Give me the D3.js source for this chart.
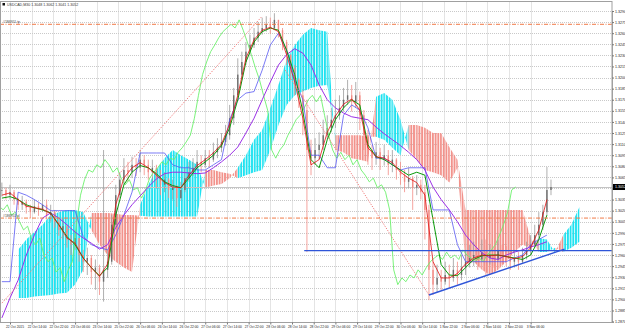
<!DOCTYPE html>
<html>
<head>
<meta charset="utf-8">
<script src="https://cdn.jsdelivr.net/npm/d3@7"></script>
<style>
  html, body { margin: 0; padding: 0; background: #fff; }
  svg { display: block; font-family: "Liberation Sans", Arial, sans-serif; }
</style>
</head>
<body>
<div id="chart"></div>
<script>
// USDCAD M30 with Ichimoku-style overlays. Candles are sampled every 3 bars,
// indicator lines every 6 bars, read off the screenshot.
const symbol = 'USDCAD,M30';

const candleStartBar = -6, candleStep = 3;
const closes = [1.3048,1.3041,1.3045,1.3035,1.3028,1.3032,1.3024,1.3018,1.3026,1.3021,
  1.3028,1.3014,1.3018,1.3005,1.2994,1.2999,1.2981,1.2974,1.2983,1.2960,
  1.2951,1.2956,1.2937,1.2943,1.2924,1.2940,1.2951,1.3001,1.3041,1.3062,
  1.3075,1.3072,1.3082,1.3078,1.3089,1.3082,1.3072,1.3078,1.3064,1.3055,
  1.3062,1.3048,1.3051,1.3037,1.3048,1.3064,1.3072,1.3078,1.3086,1.3082,
  1.3091,1.3089,1.3099,1.3105,1.3113,1.3122,1.3145,1.3176,1.3204,1.3221,
  1.3235,1.3244,1.3254,1.3262,1.3267,1.3272,1.3267,1.3278,1.3264,1.3248,
  1.3231,1.3213,1.3197,1.3176,1.3156,1.3102,1.3091,1.3102,1.3109,1.3122,
  1.3132,1.3143,1.3149,1.3159,1.3170,1.3176,1.3167,1.3176,1.3149,1.3122,
  1.3102,1.3091,1.3099,1.3089,1.3095,1.3082,1.3089,1.3075,1.3068,1.3059,
  1.3064,1.3051,1.3055,1.3045,1.3021,1.2940,1.2920,1.2929,1.2924,1.2933,
  1.2929,1.2940,1.2933,1.2943,1.2951,1.2956,1.2960,1.2954,1.2964,1.2956,
  1.2960,1.2954,1.2967,1.2960,1.2956,1.2951,1.2956,1.2951,1.2960,1.2967,
  1.2974,1.2987,1.3001,1.3018,1.3048,1.3052];
const highs = [1.3058,1.3051,1.3055,1.3048,1.3037,1.3040,1.3035,1.3028,1.3035,1.3031,
  1.3093,1.3035,1.3028,1.3021,1.3010,1.3010,1.3001,1.2987,1.2994,1.2983,
  1.2967,1.2970,1.2960,1.2954,1.2947,1.3102,1.2967,1.3014,1.3055,1.3072,
  1.3091,1.3086,1.3093,1.3091,1.3102,1.3095,1.3089,1.3089,1.3082,1.3075,
  1.3072,1.3064,1.3062,1.3055,1.3059,1.3078,1.3086,1.3091,1.3102,1.3095,
  1.3102,1.3102,1.3112,1.3118,1.3125,1.3136,1.3163,1.3186,1.3226,1.3235,
  1.3248,1.3258,1.3267,1.3275,1.3281,1.3283,1.3281,1.3287,1.3278,1.3267,
  1.3251,1.3231,1.3217,1.3199,1.3183,1.3170,1.3116,1.3118,1.3126,1.3143,
  1.3149,1.3159,1.3170,1.3176,1.3186,1.3197,1.3190,1.3194,1.3181,1.3156,
  1.3129,1.3109,1.3113,1.3105,1.3109,1.3102,1.3102,1.3091,1.3086,1.3075,
  1.3078,1.3067,1.3068,1.3062,1.3055,1.3028,1.2951,1.2947,1.2940,1.2951,
  1.2947,1.2956,1.2951,1.2960,1.2967,1.2974,1.2978,1.2970,1.2981,1.2981,
  1.2974,1.2970,1.2981,1.2974,1.2972,1.2967,1.2967,1.2964,1.2970,1.2978,
  1.2987,1.3001,1.3018,1.3028,1.3079,1.3062];
const lows = [1.3039,1.3035,1.3035,1.3028,1.3021,1.3021,1.3016,1.3010,1.3016,1.3013,
  1.3018,1.3008,1.3005,1.2997,1.2986,1.2981,1.2970,1.2960,1.2967,1.2951,
  1.2937,1.2933,1.2920,1.2913,1.2906,1.2897,1.2929,1.2947,1.2997,1.3037,
  1.3055,1.3059,1.3064,1.3067,1.3072,1.3068,1.3062,1.3059,1.3051,1.3041,
  1.3045,1.3037,1.3035,1.3025,1.3035,1.3045,1.3059,1.3067,1.3075,1.3072,
  1.3078,1.3078,1.3086,1.3091,1.3099,1.3108,1.3116,1.3136,1.3170,1.3197,
  1.3217,1.3231,1.3240,1.3248,1.3258,1.3262,1.3259,1.3264,1.3254,1.3237,
  1.3217,1.3197,1.3176,1.3159,1.3122,1.2964,1.3068,1.3082,1.3089,1.3102,
  1.3116,1.3126,1.3132,1.3143,1.3154,1.3163,1.3154,1.3159,1.3129,1.3102,
  1.3082,1.3075,1.3082,1.3075,1.3081,1.3068,1.3072,1.3062,1.3055,1.3045,
  1.3051,1.3021,1.3041,1.3035,1.2981,1.2899,1.2906,1.2910,1.2913,1.2920,
  1.2916,1.2924,1.2920,1.2926,1.2933,1.2943,1.2945,1.2940,1.2951,1.2933,
  1.2947,1.2943,1.2951,1.2948,1.2945,1.2940,1.2943,1.2940,1.2948,1.2954,
  1.2960,1.2970,1.2983,1.2994,1.3014,1.3041];

// Indicator lines, one value every 6 bars.
const lineStartBar = -6, lineStep = 6;
const fastMA = [1.3041,1.3044,1.3035,1.3026,1.3024,1.3022,1.3016,1.3001,1.2983,1.2976,
  1.2956,1.2943,1.2931,1.2948,1.3028,1.3064,1.3078,1.3085,1.3078,1.3068,
  1.3058,1.3052,1.3051,1.3068,1.3081,1.3089,1.3098,1.3110,1.3137,1.3176,
  1.3226,1.3251,1.3264,1.3268,1.3262,1.3231,1.3194,1.3145,1.3082,1.3089,
  1.3126,1.3148,1.3164,1.3171,1.3156,1.3105,1.3093,1.3091,1.3085,1.3072,
  1.3064,1.3058,1.3041,1.2951,1.2929,1.2929,1.2935,1.2948,1.2956,1.2960,
  1.2959,1.2960,1.2958,1.2955,1.2958,1.2970,1.2994,1.3035];
const slowMA = [1.3037,1.3039,1.3035,1.3028,1.3024,1.3021,1.3017,1.3001,1.2985,1.2974,
  1.2956,1.2943,1.2932,1.2943,1.3014,1.3055,1.3072,1.3081,1.3078,1.3070,
  1.3059,1.3054,1.3051,1.3064,1.3078,1.3086,1.3095,1.3108,1.3132,1.3170,
  1.3221,1.3248,1.3262,1.3267,1.3264,1.3237,1.3204,1.3154,1.3089,1.3078,
  1.3116,1.3143,1.3159,1.3170,1.3163,1.3109,1.3093,1.3089,1.3082,1.3075,
  1.3068,1.3072,1.3068,1.3008,1.2947,1.2933,1.2932,1.2943,1.2954,1.2959,
  1.2960,1.2960,1.2958,1.2956,1.2954,1.2960,1.2981,1.3014];
const kijun = [1.2924,1.2924,1.3045,1.3041,1.3035,1.3028,1.3020,1.3020,1.3020,1.3020,
  1.2985,1.2974,1.2970,1.2967,1.2987,1.3014,1.3045,1.3098,1.3098,1.3098,
  1.3098,1.3082,1.3078,1.3078,1.3075,1.3075,1.3082,1.3089,1.3143,1.3170,
  1.3179,1.3181,1.3210,1.3244,1.3260,1.3237,1.3197,1.3170,1.3095,1.3095,
  1.3078,1.3078,1.3149,1.3163,1.3156,1.3132,1.3091,1.3091,1.3082,1.3075,
  1.3078,1.3078,1.3078,1.3021,1.3021,1.3021,1.2974,1.2951,1.2951,1.2951,
  1.2951,1.2951,1.2951,1.2956,1.2960,1.2974,1.2981,1.2987];
const longMA = [1.2875,1.2902,1.2926,1.2960,1.2987,1.3010,1.3017,1.3010,1.3001,1.2991,
  1.2983,1.2976,1.2968,1.2974,1.2997,1.3014,1.3028,1.3040,1.3052,1.3063,
  1.3070,1.3072,1.3072,1.3071,1.3070,1.3071,1.3078,1.3086,1.3095,1.3106,
  1.3125,1.3145,1.3170,1.3194,1.3217,1.3231,1.3239,1.3233,1.3217,1.3190,
  1.3170,1.3159,1.3152,1.3147,1.3145,1.3143,1.3133,1.3124,1.3116,1.3108,
  1.3099,1.3089,1.3075,1.3052,1.3035,1.3021,1.3005,1.2987,1.2974,1.2963,
  1.2956,1.2954,1.2960,1.2964,1.2967,1.2971,1.2974,1.2978];

// Chikou span = closes drawn 26 bars back.
const chikouShift = 26;

// Kumo (Senkou span A / B), one value every 6 bars.
const cloudStartBar = 6, cloudStep = 6;
const spanA = [1.2967,1.2981,1.2991,1.3001,1.3014,1.3018,1.3021,1.3021,1.3018,1.2994,
  1.2974,1.2960,1.2951,1.2943,1.2937,1.3028,1.3055,1.3075,1.3091,1.3102,
  1.3095,1.3089,1.3082,1.3051,1.3054,1.3056,1.3064,1.3078,1.3095,1.3116,
  1.3129,1.3159,1.3190,1.3224,1.3244,1.3258,1.3267,1.3264,1.3262,1.3102,
  1.3099,1.3091,1.3089,1.3086,1.3174,1.3179,1.3170,1.3143,1.3102,1.3089,
  1.3075,1.3072,1.3068,1.3058,1.3078,1.2947,1.2951,1.2940,1.2933,1.2940,
  1.2951,1.2964,1.2974,1.2970,1.2983,1.2981,1.2963,1.2987,1.3001,1.3025];
const spanB = [1.2902,1.2902,1.2904,1.2905,1.2906,1.2908,1.2909,1.2920,1.2940,1.3017,
  1.3017,1.3017,1.3016,1.3014,1.3014,1.3013,1.3012,1.3012,1.3012,1.3012,
  1.3012,1.3012,1.3012,1.3075,1.3075,1.3072,1.3070,1.3064,1.3068,1.3072,
  1.3075,1.3102,1.3136,1.3163,1.3176,1.3181,1.3186,1.3189,1.3190,1.3122,
  1.3122,1.3122,1.3122,1.3120,1.3120,1.3116,1.3105,1.3095,1.3136,1.3136,
  1.3132,1.3125,1.3125,1.3106,1.3089,1.3021,1.3021,1.3021,1.3021,1.3021,
  1.3021,1.3021,1.3021,1.2983,1.2964,1.2964,1.2970,1.2964,1.2970,1.2978];

// Drawn objects: [bar, price] endpoints.
const riseDotted = [[-6, 1.2895], [186, 1.3283]];
const fallDotted = [[203, 1.3210], [309, 1.2906]];
const supportTrend = [[309, 1.2906], [409, 1.2968]];
const flatSupport = [[217, 1.2966], [444, 1.2966]];
const orderLevels = [1.3272, 1.3010];
const orderLabels = ['#186951 tp', '#186951 sl'];

// Axis ticks.
const priceTicks = [1.2870,1.2885,1.2900,1.2915,1.2930,1.2945,1.2960,1.2975,1.2990,1.3005,
  1.3020,1.3035,1.3050,1.3065,1.3080,1.3095,1.3110,1.3125,1.3140,1.3155,
  1.3170,1.3185,1.3200,1.3215,1.3230,1.3245,1.3260,1.3275,1.3290];
const dateLabels = ['22 Oct 2015','22 Oct 14:00','22 Oct 22:00','23 Oct 06:00','23 Oct 14:00',
  '25 Oct 22:00','26 Oct 06:00','26 Oct 14:00','26 Oct 22:00','27 Oct 06:00',
  '27 Oct 14:00','27 Oct 22:00','28 Oct 06:00','28 Oct 14:00','28 Oct 22:00',
  '29 Oct 06:00','29 Oct 14:00','29 Oct 22:00','30 Oct 06:00','30 Oct 14:00',
  '1 Nov 22:00','2 Nov 06:00','2 Nov 14:00','2 Nov 22:00','3 Nov 06:00'];
const barsPerLabel = 16;

(function(){
  const W = 625, H = 330;
  const plotRight = 612, plotTop = 1.5, plotBottom = 322.5;

  const svg = d3.select('#chart').append('svg').attr('width', W).attr('height', H);
  const x = d3.scaleLinear().domain([0, 444]).range([10, plotRight]);
  const y = d3.scaleLinear().domain([1.2870, 1.3290]).range([321.6, 11]);

  const defs = svg.append('defs');
  defs.append('clipPath').attr('id', 'plotClip')
    .append('rect').attr('x', 0).attr('y', plotTop).attr('width', plotRight).attr('height', plotBottom - plotTop);
  // Vertical hatching like the terminal's histogram-style cloud.
  function hatch(id, color){
    const p = defs.append('pattern').attr('id', id)
      .attr('patternUnits', 'userSpaceOnUse').attr('width', 2.7).attr('height', 6);
    p.append('rect').attr('width', 1.9).attr('height', 6).attr('fill', color);
  }
  hatch('kumoUp', '#1FE2F0');
  hatch('kumoDown', '#F2928B');

  const plot = svg.append('g').attr('clip-path', 'url(#plotClip)');

  // Dotted grid.
  const gridBars = dateLabels.map((d, i) => i * barsPerLabel);
  plot.append('g').selectAll('line').data(priceTicks).join('line')
    .attr('x1', 0).attr('x2', plotRight)
    .attr('y1', d => Math.round(y(d)) + 0.5).attr('y2', d => Math.round(y(d)) + 0.5)
    .attr('stroke', '#C9C9C9').attr('stroke-dasharray', '1,1');
  plot.append('g').selectAll('line').data(gridBars).join('line')
    .attr('x1', d => Math.round(x(d)) + 0.5).attr('x2', d => Math.round(x(d)) + 0.5)
    .attr('y1', plotTop).attr('y2', plotBottom)
    .attr('stroke', '#C9C9C9').attr('stroke-dasharray', '1,1');

  // Kumo: one small area per step, coloured by which span is on top.
  const cloudPts = spanA.map((a, i) => ({bar: cloudStartBar + i * cloudStep, a, b: spanB[i]}));
  const cloudArea = d3.area().x(d => x(d.bar)).y0(d => y(d.b)).y1(d => y(d.a));
  plot.append('g').selectAll('path').data(d3.pairs(cloudPts)).join('path')
    .attr('d', d => cloudArea(d))
    .attr('fill', d => d[0].a >= d[0].b ? 'url(#kumoUp)' : 'url(#kumoDown)');

  // Bid line.
  const lastClose = closes[closes.length - 1];
  plot.append('line')
    .attr('x1', 0).attr('x2', plotRight)
    .attr('y1', Math.round(y(lastClose)) + 0.5).attr('y2', Math.round(y(lastClose)) + 0.5)
    .attr('stroke', '#C4C4C4');

  // Candles (open = previous close).
  const candles = closes.map((c, i) => ({
    bar: candleStartBar + i * candleStep,
    open: i ? closes[i - 1] : c, high: highs[i], low: lows[i], close: c
  }));
  const upCol = '#6E6E6E', downCol = '#F28C85';
  const cg = plot.append('g');
  cg.selectAll('line').data(candles).join('line')
    .attr('x1', d => x(d.bar)).attr('x2', d => x(d.bar))
    .attr('y1', d => y(d.high)).attr('y2', d => y(d.low))
    .attr('stroke', d => d.close >= d.open ? '#9A9A9A' : downCol).attr('stroke-width', 0.8);
  cg.selectAll('rect').data(candles).join('rect')
    .attr('x', d => x(d.bar) - 0.7).attr('width', 1.4)
    .attr('y', d => Math.min(y(d.open), y(d.close)))
    .attr('height', d => Math.max(0.8, Math.abs(y(d.open) - y(d.close))))
    .attr('fill', d => d.close >= d.open ? upCol : downCol);

  const lineAt = (start, step) => d3.line().x((d, i) => x(start + i * step)).y(d => y(d));

  // Chikou span.
  plot.append('path').datum(closes)
    .attr('d', lineAt(candleStartBar - chikouShift, candleStep))
    .attr('fill', 'none').attr('stroke', '#6CF06C').attr('stroke-width', 0.9);

  const series = [
    {data: kijun, color: '#5858F2', w: 0.8},
    {data: longMA, color: '#9B30E6', w: 1},
    {data: slowMA, color: '#0A9A0A', w: 1},
    {data: fastMA, color: '#E01010', w: 0.8}
  ];
  plot.append('g').selectAll('path').data(series).join('path')
    .attr('d', d => lineAt(lineStartBar, lineStep)(d.data))
    .attr('fill', 'none').attr('stroke', d => d.color).attr('stroke-width', d => d.w);

  // Drawn objects.
  const seg = d3.line().x(d => x(d[0])).y(d => y(d[1]));
  plot.append('path').attr('d', seg(riseDotted)).attr('fill', 'none')
    .attr('stroke', '#F08080').attr('stroke-dasharray', '1.3,1.3');
  plot.append('path').attr('d', seg(fallDotted)).attr('fill', 'none')
    .attr('stroke', '#F08080').attr('stroke-dasharray', '1.3,1.3');
  plot.append('path').attr('d', seg(flatSupport)).attr('fill', 'none')
    .attr('stroke', '#2F55D8').attr('stroke-width', 1.4);
  plot.append('path').attr('d', seg(supportTrend)).attr('fill', 'none')
    .attr('stroke', '#2F55D8').attr('stroke-width', 1.4);

  // Order levels with their tickets.
  plot.append('g').selectAll('line').data(orderLevels).join('line')
    .attr('x1', 0).attr('x2', plotRight)
    .attr('y1', d => y(d)).attr('y2', d => y(d))
    .attr('stroke', '#F07A48').attr('stroke-dasharray', '4,1.5,1,1.5');
  svg.append('g').selectAll('text').data(orderLevels).join('text')
    .attr('x', 3).attr('y', d => y(d) - 1)
    .attr('font-size', 3.4).attr('fill', '#444')
    .text((d, i) => orderLabels[i]);

  // Frame.
  svg.append('rect').attr('x', 0.5).attr('y', plotTop).attr('width', plotRight - 0.5)
    .attr('height', plotBottom - plotTop).attr('fill', 'none').attr('stroke', '#A0A0A0');

  // Price axis on the right; the label under the price tag is hidden, as in the terminal.
  const yAxis = svg.append('g').attr('transform', `translate(${plotRight},0)`)
    .call(d3.axisRight(y).tickValues(priceTicks).tickSize(2).tickPadding(1).tickFormat(d3.format('.4f')));
  yAxis.select('.domain').attr('stroke', '#A0A0A0');
  yAxis.selectAll('.tick line').attr('stroke', '#777');
  yAxis.selectAll('text').attr('font-size', 3.6).attr('fill', '#222').attr('font-family', null);
  yAxis.selectAll('.tick').filter(d => Math.abs(y(d) - y(lastClose)) < 5).select('text').remove();

  // Time axis.
  const xAxis = svg.append('g').attr('transform', `translate(0,${plotBottom})`)
    .call(d3.axisBottom(x).tickValues(gridBars).tickSize(2).tickPadding(1)
      .tickFormat((d, i) => dateLabels[i]));
  xAxis.select('.domain').remove();
  xAxis.selectAll('.tick line').attr('stroke', '#777');
  xAxis.selectAll('text').attr('font-size', 3.3).attr('fill', '#222').attr('font-family', null)
    .attr('text-anchor', 'start').attr('dx', -4.5);

  // Current price tag.
  const tag = svg.append('g').attr('transform', `translate(${plotRight + 1},${y(lastClose)})`);
  tag.append('rect').attr('x', 0).attr('y', -3).attr('width', 12.5).attr('height', 6).attr('fill', '#000');
  tag.append('text').attr('x', 2).attr('y', 1.3).attr('font-size', 3.6).attr('fill', '#fff')
    .text(d3.format('.4f')(lastClose));

  // Header with symbol and last bar OHLC.
  const last = candles[candles.length - 1];
  const f4 = d3.format('.4f');
  svg.append('rect').attr('x', 2.5).attr('y', 3).attr('width', 2.5).attr('height', 2.5).attr('fill', '#111');
  svg.append('text').attr('x', 7).attr('y', 5.6).attr('font-size', 3.6).attr('fill', '#333')
    .text(`${symbol}  ${f4(last.open)} ${f4(last.high)} ${f4(last.low)} ${f4(last.close)}`);
})();
</script>
</body>
</html>
